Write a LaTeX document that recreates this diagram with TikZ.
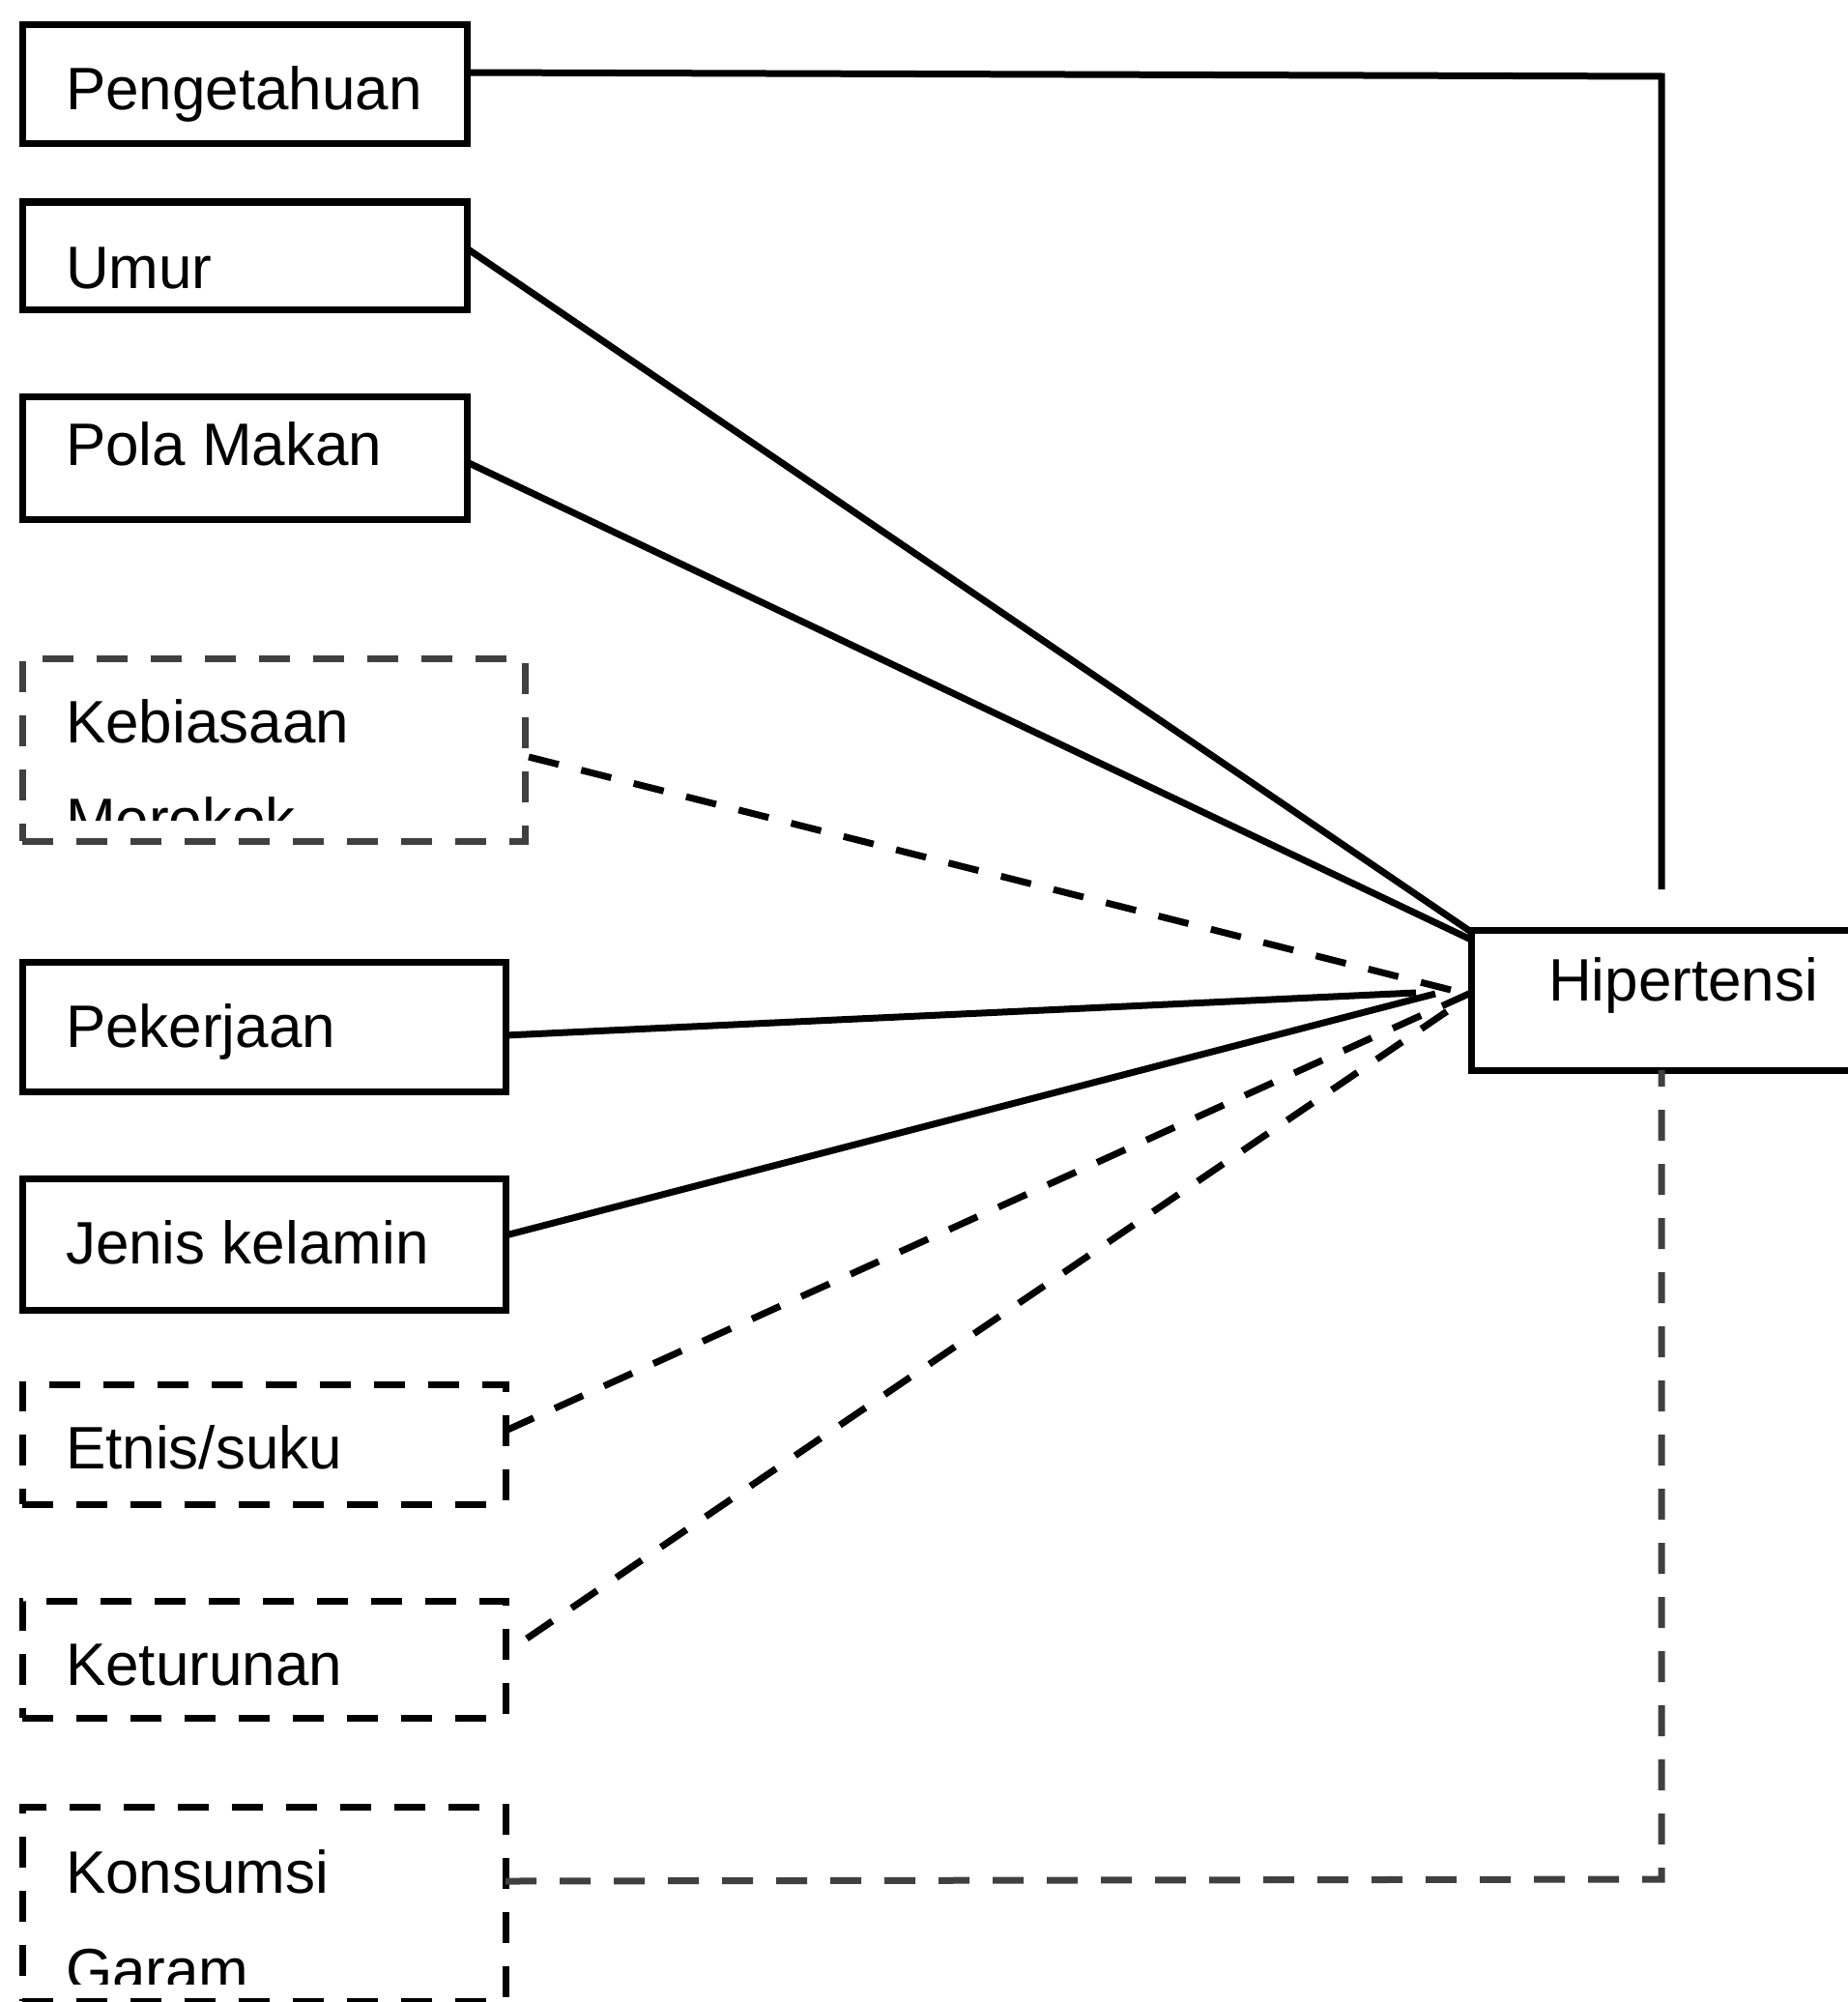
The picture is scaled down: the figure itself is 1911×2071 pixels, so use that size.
\documentclass[tikz,border=0pt]{standalone}
\usepackage{fontspec}
\setmainfont{Liberation Sans}
\begin{document}
\begin{tikzpicture}[x=1pt,y=-1pt,
  box/.style={draw=black,line width=7pt,rectangle,inner sep=0pt,outer sep=0pt},
  dbox/.style={box,dash pattern=on 32pt off 24pt},
  lbl/.style={inner sep=0pt,outer sep=0pt,anchor=base west,font=\fontsize{62}{101}\selectfont},
  conn/.style={line width=7pt,draw=black},
  dconn/.style={conn,dash pattern=on 32pt off 24pt}]
\definecolor{dgray}{HTML}{404040}
\useasboundingbox (0,0) rectangle (1911,2071);
% boxes
\node[box,minimum width=460pt,minimum height=123pt] (peng) at (253,87.5) {};
\node[box,minimum width=460pt,minimum height=111pt] (umur) at (253,264.5) {};
\node[box,minimum width=460pt,minimum height=127pt] (pola) at (253,473.5) {};
\node[dbox,draw=dgray,minimum width=520pt,minimum height=189pt] (keb) at (283,775.5) {};
\node[box,minimum width=500pt,minimum height=134pt] (pek) at (273,1062.5) {};
\node[box,minimum width=500pt,minimum height=136pt] (jen) at (273,1287) {};
\node[dbox,minimum width=500pt,minimum height=124pt] (etn) at (273,1494) {};
\node[dbox,minimum width=500pt,minimum height=121pt] (ket) at (273,1716.5) {};
\node[dbox,minimum width=500pt,minimum height=201pt] (kon) at (273,1969.5) {};
\node[box,minimum width=413pt,minimum height=145pt] (hip) at (1728.5,1034.5) {};
% texts
\node[lbl] (tpeng) at (68,114) {Pengetahuan};
\node[lbl] (tumur) at (68,298) {Umur};
\node[lbl] (tpola) at (68,481) {Pola Makan};
\begin{scope}
\clip (27,685) rectangle (539,848);
\node[lbl] (tkeb1) at (68,768) {Kebiasaan};
\node[lbl] (tkeb2) at (68,869) {Merokok};
\end{scope}
\node[lbl] (tpek) at (68,1083) {Pekerjaan};
\node[lbl] (tjen) at (68,1307) {Jenis kelamin};
\node[lbl] (tetn) at (68,1519) {Etnis/suku};
\node[lbl] (tket) at (68,1743) {Keturunan};
\begin{scope}
\clip (27,1873) rectangle (519,2052);
\node[lbl] (tkon1) at (68,1958) {Konsumsi};
\node[lbl] (tkon2) at (68,2059) {Garam};
\end{scope}
\node[lbl] (thip) at (1602,1035) {Hipertensi};
% free ends
\coordinate (pc) at (1719,79);
\coordinate (pe) at (1719,920);
\coordinate (kebs) at (547,783);
\coordinate (kebe) at (1505,1025);
\coordinate (peke) at (1465,1027);
\coordinate (jene) at (1485,1028);
\coordinate (kets) at (545,1695);
\coordinate (kete) at (1515,1034);
\coordinate (kc) at (1719,1944);
% connectors
\draw[conn] ([yshift=12.5pt]peng.east) -- (pc) -- (pe);
\draw[conn] ([yshift=7.5pt]umur.east) -- ([yshift=-2pt]hip.north west);
\draw[conn] ([yshift=-4.5pt]pola.east) -- ([yshift=-10pt]hip.north west);
\draw[dconn] (kebs) -- (kebe);
\draw[conn] ([yshift=-8.5pt]pek.east) -- (peke);
\draw[conn] ([yshift=9pt]jen.east) -- (jene);
\draw[dconn] ([yshift=14pt]etn.east) -- ([yshift=7.5pt]hip.west);
\draw[dconn] (kets) -- (kete);
\draw[dconn,draw=dgray] ([yshift=23.5pt]kon.east) -- (kc) -- (kc |- hip.south);
\end{tikzpicture}
\end{document}
